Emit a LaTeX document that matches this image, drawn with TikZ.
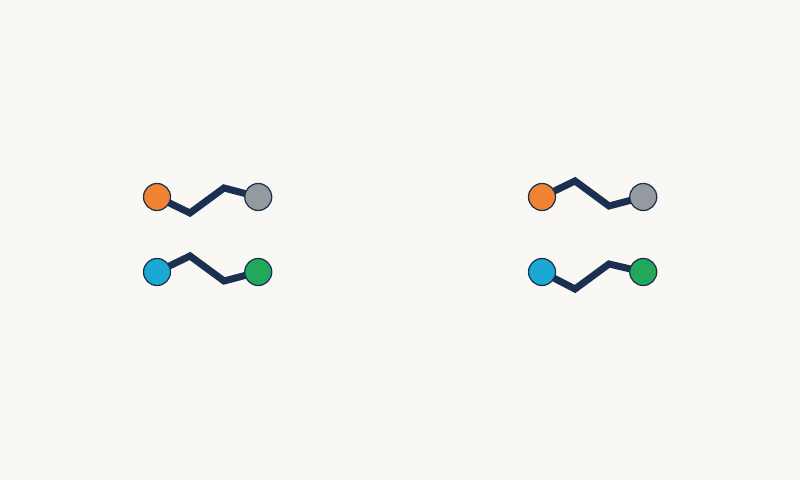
\documentclass[tikz,border=0pt]{standalone}
\usepackage{tikz}
\usetikzlibrary{positioning}
\definecolor{paper}{HTML}{F9F8F4}
\definecolor{navy}{HTML}{1B2F50}
\definecolor{dorange}{HTML}{F08232}
\definecolor{dgray}{HTML}{9599A0}
\definecolor{dblue}{HTML}{1BA9D3}
\definecolor{dgreen}{HTML}{22A85B}
\pgfdeclarelayer{back}
\pgfsetlayers{back,main}
\tikzset{dot/.style={circle, draw=navy, line width=0.35pt, minimum size=0.27cm, inner sep=0pt}}
\tikzset{wire/.style={draw=navy, line width=0.07cm, line join=miter}}
\begin{document}
\begin{tikzpicture}
	\begin{pgfonlayer}{back}
		\fill[paper] (0,0) rectangle (8,4.8);
	\end{pgfonlayer}
	\useasboundingbox (0,0) rectangle (8,4.8);

	% left pair
	\node[dot, fill=dorange] (o1) at (1.57, 2.83) {};
	\node[dot, fill=dgray, right=0.73 of o1] (g1) {};
	\node[dot, fill=dblue] (b1) at (1.57, 2.08) {};
	\node[dot, fill=dgreen, right=0.73 of b1] (e1) {};

	% right pair
	\node[dot, fill=dorange] (o2) at (5.42, 2.83) {};
	\node[dot, fill=dgray, right=0.73 of o2] (g2) {};
	\node[dot, fill=dblue] (b2) at (5.42, 2.08) {};
	\node[dot, fill=dgreen, right=0.73 of b2] (e2) {};

	\begin{pgfonlayer}{back}
		\draw[wire] (o1.center) -- ++(0.33,-0.16) -- ++(0.34,0.25) -- (g1.center);
		\draw[wire] (b1.center) -- ++(0.33,0.16) -- ++(0.34,-0.25) -- (e1.center);
		\draw[wire] (o2.center) -- ++(0.33,0.16) -- ++(0.34,-0.25) -- (g2.center);
		\draw[wire] (b2.center) -- ++(0.33,-0.17) -- ++(0.34,0.25) -- (e2.center);
	\end{pgfonlayer}
\end{tikzpicture}
\end{document}
